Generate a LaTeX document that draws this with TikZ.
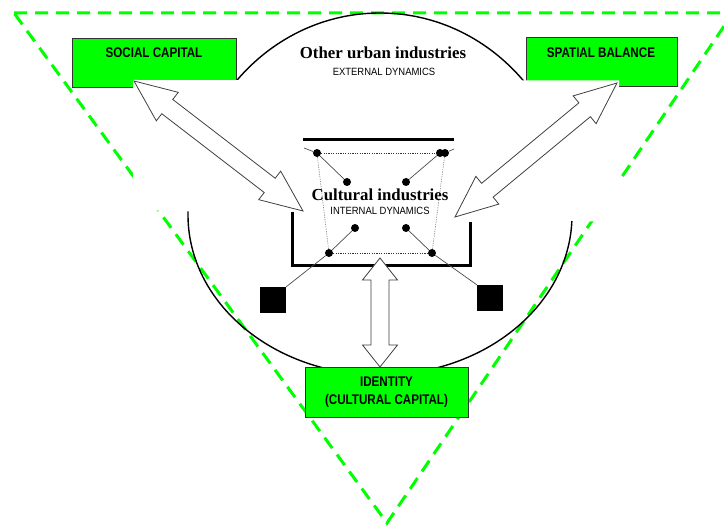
\documentclass[tikz,border=0pt]{standalone}
\usepackage{fontspec}
\setmainfont{Liberation Serif}
\newfontfamily\boxfont[FakeStretch=0.83]{Liberation Sans}
\newfontfamily\subfont[FakeStretch=0.9]{Liberation Sans}
\usetikzlibrary{calc}
\definecolor{vgreen}{RGB}{0,255,0}
\tikzset{
  tri/.style={draw=vgreen, line width=3pt, dash pattern=on 13pt off 8pt},
  ring/.style={draw=black, line width=1.4pt},
  gbox/.style={draw=black!80, fill=vgreen, line width=0.8pt, inner sep=0pt, rectangle},
  boxtext/.style={font=\boxfont\bfseries\fontsize{14}{18}\selectfont, inner sep=0pt, align=center},
  titletext/.style={font=\bfseries\fontsize{16.8}{20}\selectfont, inner sep=0pt},
  subtext/.style={font=\subfont\fontsize{10.5}{12}\selectfont, inner sep=0pt},
  dot/.style={circle, fill=black, inner sep=0pt, minimum size=8pt},
  sq/.style={rectangle, fill=black, inner sep=0pt, minimum size=26pt},
  thinline/.style={draw=black!70, line width=0.7pt},
  dotline/.style={draw=black!80, line width=0.7pt, dash pattern=on 1.2pt off 1.2pt},
  graydotline/.style={draw=black!50, line width=0.6pt, dash pattern=on 1.2pt off 1.2pt},
  thick3/.style={draw=black, line width=3pt},
  arr/.style={draw=black!75, fill=white, line width=0.8pt, line join=miter}
}
\newcommand{\hollowarrow}[5]{%
  \draw[arr] (#1) -- ($(#1)!#3!(#2)!#4!90:(#2)$) -- ($(#1)!#3!(#2)!#5!90:(#2)$)
    -- ($(#2)!#3!(#1)!#5!-90:(#1)$) -- ($(#2)!#3!(#1)!#4!-90:(#1)$) -- (#2)
    -- ($(#2)!#3!(#1)!#4!90:(#1)$) -- ($(#2)!#3!(#1)!#5!90:(#1)$)
    -- ($(#1)!#3!(#2)!#5!-90:(#2)$) -- ($(#1)!#3!(#2)!#4!-90:(#2)$) -- cycle;}
\begin{document}
\begin{tikzpicture}[x=1pt,y=-1pt]
\useasboundingbox (0,0) rectangle (724,526);
\clip (0,0) rectangle (724,526);
\fill[white] (0,0) rectangle (724,526);
% dashed triangle
\draw[tri] (14,13) -- (733,13) -- (387,523) -- cycle;
% outer ring
\draw[ring] (188,215) arc[start angle=180,end angle=0,x radius=192pt,y radius=202pt]
  arc[start angle=0,end angle=-180,x radius=192pt,y radius=160pt];
% boxes
\node[gbox, minimum width=164pt, minimum height=49pt] (soc) at (154,62.5) {};
\node[gbox, minimum width=151pt, minimum height=49pt] (spa) at (601.5,61.5) {};
\node[gbox, minimum width=163pt, minimum height=50pt] (idb) at (386.5,392) {};
% white mask
\fill[white] (133,80) -- (619,80.5) -- (619,222) -- (133,210) -- cycle;
% texts
\node[boxtext] (soct) at (154,53) {SOCIAL CAPITAL};
\node[boxtext] (spat) at (601,53) {SPATIAL BALANCE};
\node[boxtext] (idt) at (386.5,392) {IDENTITY\\[-0.5pt](CULTURAL CAPITAL)};
\node[titletext] (oth) at (383,53) {Other urban industries};
\node[subtext] (ext) at (384,72) {EXTERNAL DYNAMICS};
% central structure
\draw[thick3] (303,140) -- (454,140);
\draw[thick3] (292,212) -- (292,266) -- (470,266) -- (470,222);
\node[dot] (d1) at (317,153) {};
\node[dot] (d2a) at (440,153) {};
\node[dot] (d2) at (445,153) {};
\node[dot] (d3) at (347,182) {};
\node[dot] (d4) at (406,182) {};
\node[dot] (d5) at (355,228) {};
\node[dot] (d6) at (406,228) {};
\node[dot] (d7) at (329,253) {};
\node[dot] (d8) at (432,253) {};
\node[sq] (sqL) at (273,300) {};
\node[sq] (sqR) at (490,298) {};
\coordinate (tl) at (304,148);
\coordinate (tr) at (454,149);
\draw[thinline] (d1) -- (tl);
\draw[thinline] (d2) -- (tr);
\draw[dotline] (d1) -- (d2a);
\draw[dotline] (d7) -- (d8);
\draw[graydotline] (d1) -- (d7);
\draw[graydotline] (d2) -- (d8);
\draw[thinline] (d1) -- (d3);
\draw[thinline] (d2a) -- (d4);
\draw[thinline] (d7) -- (d5);
\draw[thinline] (d8) -- (d6);
\draw[thinline] (d7) -- (sqL.north east);
\draw[thinline] (d8) -- (sqR.north west);
\node[titletext] (cul) at (380,195) {Cultural industries};
\node[subtext] (intd) at (380,211) {INTERNAL DYNAMICS};
% arrows
\coordinate (socTip) at (134,81);
\coordinate (culL) at (303,211);
\coordinate (spaTip) at (617,83);
\coordinate (culR) at (455,217);
\coordinate (cupB) at (380,258);
\coordinate (idTop) at (380,367);
\hollowarrow{socTip}{culL}{42pt}{18pt}{9pt}
\hollowarrow{spaTip}{culR}{42pt}{18pt}{9pt}
\hollowarrow{cupB}{idTop}{22pt}{17.5pt}{9pt}
\end{tikzpicture}
\end{document}
